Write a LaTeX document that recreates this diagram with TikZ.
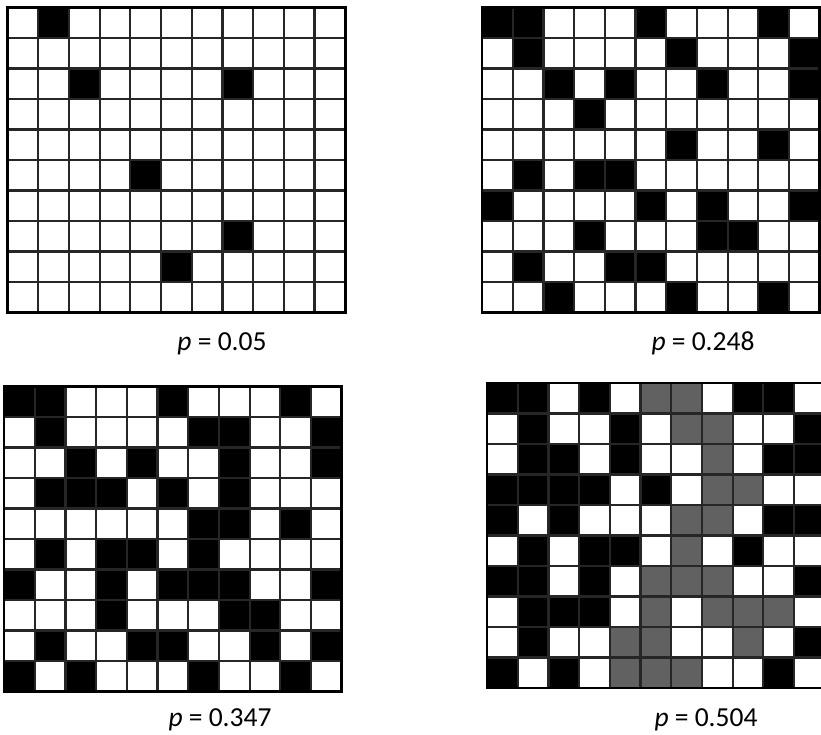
\documentclass[tikz,border=0pt]{standalone}
\usepackage{fontspec}
\setmainfont{Carlito}
\usepackage{tikz}
\usetikzlibrary{positioning}

\begin{document}
\begin{tikzpicture}[
			x=1pt, y=-1pt,
			cellgrid/.style={x=30.7pt, y=-30.5pt},
			gridline/.style={draw=black!85, line width=2.2pt},
			border/.style={draw=black, line width=2.6pt},
			blk/.style={fill=black},
			gry/.style={fill=black!62},
			plabel/.style={font=\fontsize{27.5}{32}\selectfont, anchor=base, inner sep=0pt},
			]
			
			\clip (0,0) rectangle (821,735);
			\fill[white] (0,0) rectangle (821,735);
			
			% ── p = 0.05 ─────────────────────────────────────────────────────
			\begin{scope}[shift={(7.5,7.5)}, cellgrid]
				\foreach \c/\r in {1/0, 2/2, 7/2, 4/5, 7/7, 5/8}
				\fill[blk] (\c,\r) rectangle ++(1,1);
				\foreach \i in {0,...,11} \draw[gridline] (\i,0) -- (\i,10);
				\foreach \j in {0,...,10} \draw[gridline] (0,\j) -- (11,\j);
				\draw[border] (0,0) rectangle (11,10);
			\end{scope}
			\node[plabel] (lab1) at (222,350) {\textit{p} = 0.05};
			
			% ── p = 0.248 ────────────────────────────────────────────────────
			\begin{scope}[shift={(482,7.5)}, cellgrid]
				\foreach \c/\r in {0/0, 1/0, 5/0, 9/0,
					1/1, 6/1, 10/1,
					2/2, 4/2, 7/2, 10/2,
					3/3,
					6/4, 9/4,
					1/5, 3/5, 4/5,
					0/6, 5/6, 7/6, 10/6,
					3/7, 7/7, 8/7,
					1/8, 4/8, 5/8,
					2/9, 6/9, 9/9}
				\fill[blk] (\c,\r) rectangle ++(1,1);
				\foreach \i in {0,...,11} \draw[gridline] (\i,0) -- (\i,10);
				\foreach \j in {0,...,10} \draw[gridline] (0,\j) -- (11,\j);
				\draw[border] (0,0) rectangle (11,10);
			\end{scope}
			\node[plabel] (lab2) at (703,350) {\textit{p} = 0.248};
			
			% ── p = 0.347 ────────────────────────────────────────────────────
			\begin{scope}[shift={(4,386.5)}, cellgrid]
				\foreach \c/\r in {0/0, 1/0, 5/0, 9/0,
					1/1, 6/1, 7/1, 10/1,
					2/2, 4/2, 7/2, 10/2,
					1/3, 2/3, 3/3, 5/3, 7/3,
					6/4, 7/4, 9/4,
					1/5, 3/5, 4/5, 6/5,
					0/6, 3/6, 5/6, 6/6, 7/6, 10/6,
					3/7, 7/7, 8/7,
					1/8, 4/8, 5/8, 8/8, 10/8,
					0/9, 2/9, 6/9, 9/9}
				\fill[blk] (\c,\r) rectangle ++(1,1);
				\foreach \i in {0,...,11} \draw[gridline] (\i,0) -- (\i,10);
				\foreach \j in {0,...,10} \draw[gridline] (0,\j) -- (11,\j);
				\draw[border] (0,0) rectangle (11,10);
			\end{scope}
			\node[plabel] (lab3) at (220,726) {\textit{p} = 0.347};
			
			% ── p = 0.504 ────────────────────────────────────────────────────
			\begin{scope}[shift={(487,383)}, cellgrid]
				\foreach \c/\r in {0/0, 1/0, 3/0, 8/0, 9/0,
					1/1, 4/1, 10/1,
					1/2, 2/2, 4/2, 9/2, 10/2,
					0/3, 1/3, 2/3, 3/3, 5/3,
					0/4, 2/4, 9/4, 10/4,
					1/5, 3/5, 4/5, 8/5,
					0/6, 1/6, 3/6, 10/6,
					1/7, 2/7, 3/7,
					1/8, 10/8,
					0/9, 2/9, 9/9}
				\fill[blk] (\c,\r) rectangle ++(1,1);
				% spanning cluster
				\foreach \c/\r in {5/0, 6/0, 6/1, 7/1, 7/2, 7/3, 8/3,
					6/4, 7/4, 6/5, 5/6, 6/6, 7/6,
					5/7, 7/7, 8/7, 9/7, 4/8, 5/8, 8/8,
					4/9, 5/9, 6/9}
				\fill[gry] (\c,\r) rectangle ++(1,1);
				\foreach \i in {0,...,11} \draw[gridline] (\i,0) -- (\i,10);
				\foreach \j in {0,...,10} \draw[gridline] (0,\j) -- (11,\j);
				\draw[border] (0,0) rectangle (11,10);
			\end{scope}
			\node[plabel] (lab4) at (706,726) {\textit{p} = 0.504};
			
		\end{tikzpicture}
\end{document}
